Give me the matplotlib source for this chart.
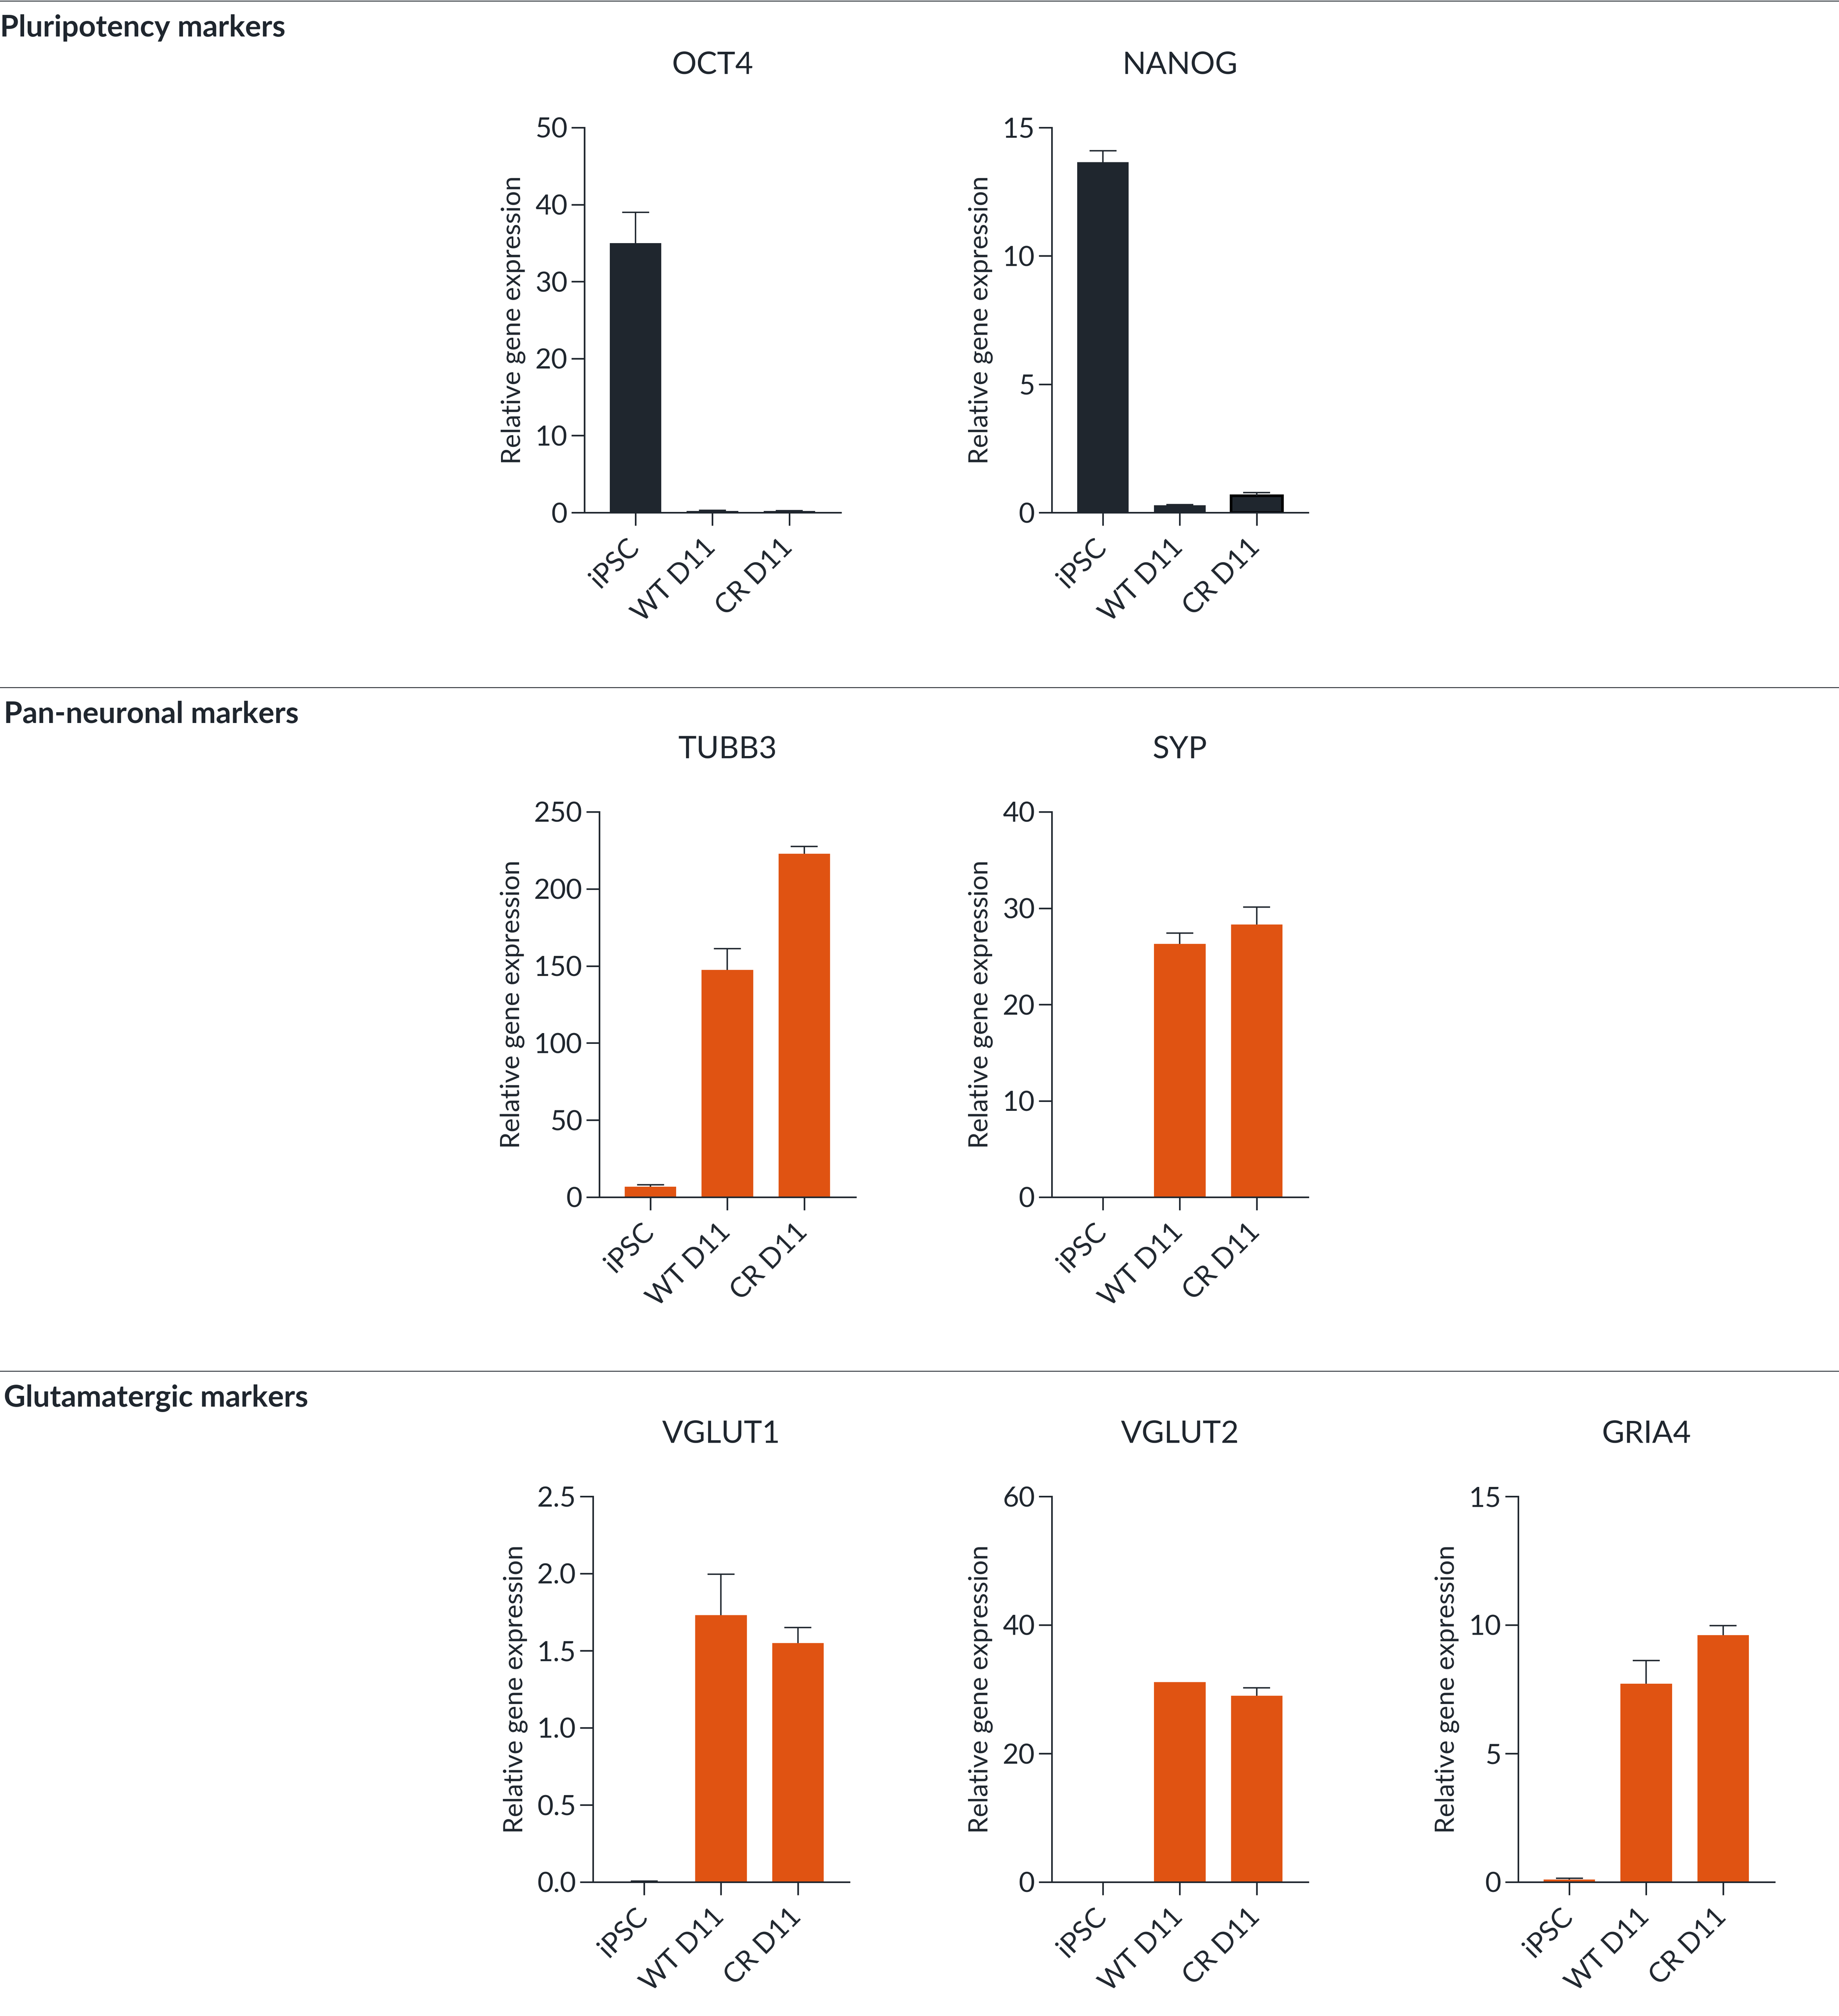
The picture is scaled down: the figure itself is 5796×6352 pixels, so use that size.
import matplotlib
matplotlib.use("Agg")
import matplotlib.pyplot as plt
import matplotlib.transforms as mtransforms
from matplotlib.lines import Line2D
from matplotlib.ticker import MultipleLocator, FormatStrFormatter

# qPCR values (mean, upper SEM)
groups = ["iPSC", "WT D11", "CR D11"]

oct4_mean = [35.0, 0.2, 0.2]
oct4_err = [4.0, 0.1, 0.05]
nanog_mean = [13.65, 0.28, 0.66]
nanog_err = [0.45, 0.03, 0.12]

tubb3_mean = [6.8, 147.5, 222.8]
tubb3_err = [1.2, 13.8, 4.7]
syp_mean = [0.0, 26.3, 28.3]
syp_err = [0.0, 1.1, 1.8]

vglut1_mean = [0.005, 1.73, 1.55]
vglut1_err = [0.002, 0.265, 0.1]
vglut2_mean = [0.0, 31.1, 29.0]
vglut2_err = [0.0, 0.0, 1.2]
gria4_mean = [0.1, 7.72, 9.6]
gria4_err = [0.05, 0.9, 0.38]

sections = ["Pluripotency markers", "Pan-neuronal markers", "Glutamatergic markers"]

DARK = "#1f262e"
ORANGE = "#e05312"

plt.rcParams["font.family"] = ["Lato", "DejaVu Sans"]
plt.rcParams["text.color"] = DARK
plt.rcParams["axes.labelcolor"] = DARK

W, H = 5796, 6352
fig = plt.figure(figsize=(W / 100, H / 100), dpi=100)
shift = mtransforms.ScaledTranslation(18 / 72, 0, fig.dpi_scale_trans)


def px_axes(left, top, bottom, width=808):
    return fig.add_axes([left / W, 1 - bottom / H, width / W, (bottom - top) / H])


def bar_panel(ax, title, means, errs, color, ymax, step, fmt=None):
    x = list(range(len(groups)))
    bars = ax.bar(x, means, width=0.67, color=color, zorder=2)
    for xi, m, e in zip(x, means, errs):
        if e > 0:
            ax.vlines(xi, m, m + e, color=DARK, lw=3.2, zorder=3)
            ax.hlines(m + e, xi - 0.175, xi + 0.175, color=DARK, lw=3.2, zorder=3)
    ax.set_xlim(-0.665, 2.67)
    ax.set_ylim(0, ymax)
    ax.yaxis.set_major_locator(MultipleLocator(step))
    if fmt:
        ax.yaxis.set_major_formatter(FormatStrFormatter(fmt))
    ax.set_xticks(x)
    ax.set_xticklabels(groups, rotation=45, ha="right", fontsize=63)
    ax.tick_params(direction="out", length=29.5, width=3.6, colors=DARK, labelsize=63)
    ax.tick_params(axis="y", pad=9)
    ax.tick_params(axis="x", pad=20)
    # nudge rotated labels so they end just right of the tick
    for lab in ax.xaxis.get_majorticklabels():
        lab.set_transform(lab.get_transform() + shift)
    for side in ["top", "right"]:
        ax.spines[side].set_visible(False)
    for side in ["left", "bottom"]:
        ax.spines[side].set_linewidth(3.6)
        ax.spines[side].set_color(DARK)
    ax.set_ylabel("Relative gene expression", fontsize=60, labelpad=22)
    ax.set_title(title, fontsize=70, pad=122, color=DARK)
    return bars


# row 1
ax = px_axes(1842, 402, 1615)
bar_panel(ax, "OCT4", oct4_mean, oct4_err, DARK, 50, 10)
ax = px_axes(3315, 402, 1615)
bars = bar_panel(ax, "NANOG", nanog_mean, nanog_err, DARK, 15, 5)
bars[2].set_edgecolor("black")
bars[2].set_linewidth(6)

# row 2
ax = px_axes(1889, 2558, 3772)
bar_panel(ax, "TUBB3", tubb3_mean, tubb3_err, ORANGE, 250, 50)
ax = px_axes(3315, 2558, 3772)
bar_panel(ax, "SYP", syp_mean, syp_err, ORANGE, 40, 10)

# row 3
ax = px_axes(1869, 4715, 5930)
bar_panel(ax, "VGLUT1", vglut1_mean, vglut1_err, ORANGE, 2.5, 0.5, "%.1f")
ax = px_axes(3315, 4715, 5930)
bar_panel(ax, "VGLUT2", vglut2_mean, vglut2_err, ORANGE, 60, 20)
ax = px_axes(4785, 4715, 5930)
bar_panel(ax, "GRIA4", gria4_mean, gria4_err, ORANGE, 15, 5)

# section rules and headers
for i, (name, sep) in enumerate(zip(sections, [3, 2166, 4320])):
    fig.add_artist(Line2D([0, 1], [1 - sep / H] * 2, transform=fig.transFigure,
                          color="#3a3f45", lw=2.2))
    fig.text(0 if i == 0 else 12 / W, 1 - (sep + 112) / H, name, fontsize=68,
             fontweight="bold", va="baseline", ha="left", color=DARK)

fig.savefig("out.png", dpi=100)
